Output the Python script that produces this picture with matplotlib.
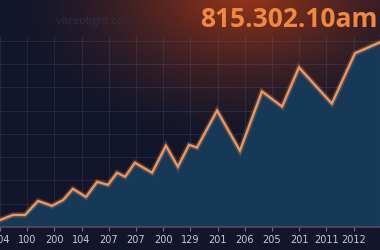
import numpy as np
import matplotlib
matplotlib.use("Agg")
import matplotlib.pyplot as plt

# ---- data ----
x_pos = [0, 0.48, 0.92, 1.4, 1.91, 2.32, 2.68, 3.16, 3.57, 3.97, 4.3, 4.6, 4.96,
         5.59, 6.1, 6.54, 6.95, 7.24, 7.98, 8.82, 9.63, 10.37, 10.99, 12.2, 13.05, 13.97]
values = [3.0, 5.2, 5.2, 11.2, 9.1, 11.6, 16.4, 12.9, 19.4, 18.1, 23.3, 21.6, 27.6,
          23.3, 34.9, 25.9, 35.3, 34.1, 50.0, 32.8, 58.2, 51.7, 68.5, 53.0, 74.6, 79.3]
tick_labels = ['204', '100', '200', '104', '207', '207', '200', '129',
               '201', '206', '205', '201', '2011', '2012']
title_text = '815.302.10am'
watermark = 'vitreolight.com'

W, H = 380, 250
fig = plt.figure(figsize=(W / 100, H / 100), dpi=100)

# background gradient
bg = fig.add_axes([0, 0, 1, 1])
yy, xx = np.mgrid[0:H, 0:W]
base = np.array([0.075, 0.088, 0.165])
glow = np.array([0.62, 0.21, 0.09])
d = np.sqrt(((xx - 245) / 230.0) ** 2 + ((yy + 10) / 150.0) ** 2)
w = np.clip(1 - d, 0, 1) ** 1.5
img = base[None, None, :] * (1 - w[..., None]) + glow[None, None, :] * w[..., None]
bg.imshow(img, extent=[0, W, H, 0], aspect='auto')
bg.set_xlim(0, W)
bg.set_ylim(H, 0)
bg.axis('off')

ax = fig.add_axes([0, 1 - 227 / 250, 1, (227 - 36) / 250])
ax.patch.set_alpha(0)
ax.set_xlim(0, 13.97)
ax.set_ylim(0, 82)
ax.fill_between(x_pos, values, 0, color='#173b5a', alpha=0.97, zorder=2)
ax.plot(x_pos, values, color='#f0a060', lw=4.0, alpha=0.22, zorder=3,
        solid_joinstyle='miter')
ax.plot(x_pos, values, color='#f2955a', lw=1.7, zorder=4, solid_joinstyle='miter')

ax.set_xticks(range(len(tick_labels)))
ax.set_xticklabels(tick_labels)
ax.set_yticks(np.arange(0, 81, 10))
ax.tick_params(axis='x', colors='#6a7390', labelcolor='#c8ccd8', labelsize=7,
               length=3, width=0.8, pad=3)
ax.tick_params(axis='y', left=False, labelleft=False)
ax.grid(True, color='#7a86aa', alpha=0.16, lw=0.8, zorder=1)
for s in ['top', 'right', 'left']:
    ax.spines[s].set_visible(False)
ax.spines['bottom'].set_color('#5a4a5a')
ax.spines['bottom'].set_linewidth(1.2)
for gl in ax.get_xgridlines() + ax.get_ygridlines():
    gl.set_zorder(2.5)

fig.text(0.995, 0.922, title_text, ha='right', va='center', color='#f0883e',
         fontsize=19, fontweight='bold', family='Open Sans')
fig.text(0.25, 0.915, watermark, ha='center', va='center', color='#2a3048',
         fontsize=8, family='Open Sans')

fig.savefig('out.png', dpi=100)
